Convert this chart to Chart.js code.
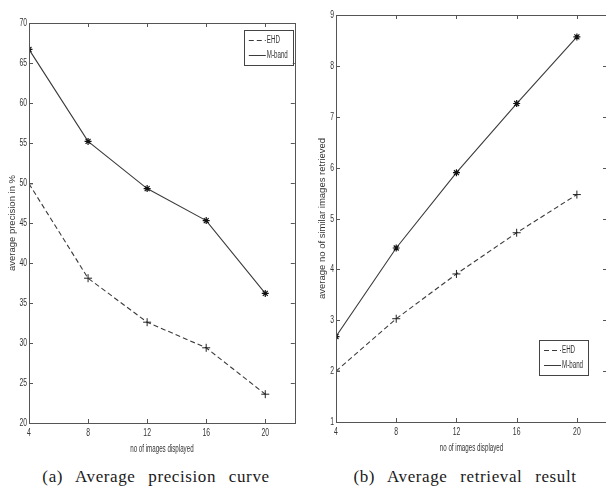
<!DOCTYPE html>
<html>
<head>
<meta charset="utf-8">
<script src="https://cdn.jsdelivr.net/npm/chart.js@4.4.1/dist/chart.umd.min.js"></script>
<style>
  html, body { margin: 0; padding: 0; background: #fff; width: 606px; height: 487px; overflow: hidden; }
  #wrap { position: relative; width: 606px; height: 487px; overflow: hidden; }
  .cv { position: absolute; top: 0; }
  .cap { position: absolute; font-family: "Liberation Serif", "Times New Roman", serif; font-size: 17px; line-height: 17px; color: #1a1a1a;
         white-space: nowrap; word-spacing: 8px; letter-spacing: 0.6px; transform: translateX(-50%); top: 468px; }
</style>
</head>
<body>
<div id="wrap">
  <div class="cv" style="left:0px;width:300px;height:460px;"><canvas id="c1" width="300" height="460"></canvas></div>
  <div class="cv" style="left:300px;width:320px;height:460px;"><canvas id="c2" width="320" height="460"></canvas></div>
  <div class="cap" style="left:156px;">(a) Average precision curve</div>
  <div class="cap" style="left:465px;">(b) Average retrieval result</div>
</div>
<script>
// ---- data ----
const xValues = [4, 8, 12, 16, 20];
const seriesNames = ["EHD", "M-band"];
const precisionEHD = [49.9, 38.1, 32.6, 29.4, 23.6];
const precisionMband = [66.7, 55.2, 49.3, 45.3, 36.2];
const retrievalEHD = [2.0, 3.03, 3.91, 4.72, 5.47];
const retrievalMband = [2.68, 4.42, 5.9, 7.26, 8.57];
const xTicks = [4, 8, 12, 16, 20];
const precisionTicks = [20, 25, 30, 35, 40, 45, 50, 55, 60, 65, 70];
const retrievalTicks = [1, 2, 3, 4, 5, 6, 7, 8, 9];
const titles = {
  left: { y: "average precision in %", x: "no of images displayed" },
  right: { y: "average no of similar images retrieved", x: "no of images displayed" }
};

const LINE = "#3b3b3b";
const FRAME = "#555";
const TXT = "#333";
const SANS = "'Liberation Sans', Arial, sans-serif";
const SQUEEZE = 0.62;

function pts(arr) { return xValues.map((x, i) => ({ x: x, y: arr[i] })); }

// draw horizontally condensed text (like the narrow font of the original)
function narrowText(ctx, text, x, y, size, align, base) {
  ctx.save();
  ctx.font = size + "px " + SANS;
  ctx.textAlign = align;
  ctx.textBaseline = base || 'middle';
  ctx.fillStyle = TXT;
  ctx.translate(x, y);
  ctx.scale(SQUEEZE, 1);
  ctx.fillText(text, 0, 0);
  ctx.restore();
}

const framePlugin = {
  id: 'frame',
  afterDatasetsDraw(chart, args, opts) {
    const { ctx, chartArea: a, scales } = chart;
    ctx.save();
    ctx.strokeStyle = FRAME;
    ctx.lineWidth = 1;
    ctx.strokeRect(Math.round(a.left) + 0.5, Math.round(a.top) + 0.5, Math.round(a.right - a.left), Math.round(a.bottom - a.top));
    const L = 4;
    ctx.beginPath();
    scales.x.ticks.forEach(t => {
      const px = Math.round(scales.x.getPixelForValue(t.value)) + 0.5;
      ctx.moveTo(px, a.bottom); ctx.lineTo(px, a.bottom - L);
      ctx.moveTo(px, a.top); ctx.lineTo(px, a.top + L);
    });
    scales.y.ticks.forEach(t => {
      const py = Math.round(scales.y.getPixelForValue(t.value)) + 0.5;
      ctx.moveTo(a.left, py); ctx.lineTo(a.left + L, py);
      ctx.moveTo(a.right, py); ctx.lineTo(a.right - L, py);
    });
    ctx.stroke();
    ctx.restore();

    // tick labels (condensed)
    scales.x.ticks.forEach(t => {
      narrowText(ctx, String(t.value), scales.x.getPixelForValue(t.value), a.bottom + 10, 11, 'center');
    });
    scales.y.ticks.forEach(t => {
      narrowText(ctx, String(t.value), a.left - 2, scales.y.getPixelForValue(t.value), 11, 'right');
    });
    // x axis title (condensed)
    narrowText(ctx, opts.xTitle, (a.left + a.right) / 2, a.bottom + 26, 10, 'center');

    // legend
    const w = 49, h = 35;
    const bx = a.right - opts.right - w;
    const by = opts.top != null ? a.top + opts.top : a.bottom - opts.bottom - h;
    ctx.save();
    ctx.fillStyle = '#fff';
    ctx.fillRect(bx, by, w, h);
    ctx.strokeStyle = '#444';
    ctx.strokeRect(Math.round(bx) + 0.5, Math.round(by) + 0.5, w, h);
    chart.data.datasets.forEach((ds, i) => {
      const yy = Math.round(by + 10 + i * 15) + 0.5;
      ctx.strokeStyle = LINE;
      ctx.setLineDash(ds.borderDash || []);
      ctx.beginPath();
      ctx.moveTo(bx + 5, yy); ctx.lineTo(bx + 22, yy);
      ctx.stroke();
      ctx.setLineDash([]);
      narrowText(ctx, ds.label, bx + 23, yy, 10, 'left');
    });
    ctx.restore();
  }
};

function makeChart(id, ehd, mband, yTicks, area, tt, legendPos) {
  const H = 460;
  return new Chart(document.getElementById(id), {
    type: 'line',
    data: {
      datasets: [
        { label: seriesNames[0], data: pts(ehd), borderColor: LINE, borderWidth: 1.1, borderDash: [5, 3],
          pointStyle: 'cross', pointRadius: 4, pointBorderWidth: 1, pointBorderColor: '#222', fill: false, tension: 0 },
        { label: seriesNames[1], data: pts(mband), borderColor: LINE, borderWidth: 1.1,
          pointStyle: 'star', pointRadius: 3.5, pointBorderWidth: 1.2, pointBorderColor: '#111', fill: false, tension: 0 }
      ]
    },
    options: {
      responsive: false,
      animation: false,
      devicePixelRatio: 1,
      layout: { padding: { left: 0, top: area.top, right: area.rightPad, bottom: 0 } },
      plugins: { legend: { display: false }, tooltip: { enabled: false },
                 frame: Object.assign({ xTitle: tt.x }, legendPos) },
      scales: {
        x: {
          type: 'linear', min: 4, max: 22,
          afterBuildTicks: s => { s.ticks = xTicks.map(v => ({ value: v })); },
          afterFit: s => { s.height = H - area.bottom; },
          grid: { display: false, drawTicks: false },
          border: { display: false },
          ticks: { display: false }
        },
        y: {
          type: 'linear', min: yTicks[0], max: yTicks[yTicks.length - 1],
          afterBuildTicks: s => { s.ticks = yTicks.map(v => ({ value: v })); },
          afterFit: s => { s.width = area.left; },
          grid: { display: false, drawTicks: false },
          border: { display: false },
          ticks: { display: false },
          title: { display: true, text: tt.y, color: TXT,
                   font: { family: SANS, size: 9.5 },
                   padding: { top: area.titlePad, bottom: 0 } }
        }
      }
    },
    plugins: [framePlugin]
  });
}

makeChart('c1', precisionEHD, precisionMband, precisionTicks,
  { left: 29, top: 23, rightPad: 5, bottom: 423, titlePad: 7 }, titles.left, { right: 2, top: 7 });
makeChart('c2', retrievalEHD, retrievalMband, retrievalTicks,
  { left: 36, top: 15, rightPad: 13, bottom: 422, titlePad: 17 }, titles.right, { right: 19, bottom: 47 });
</script>
</body>
</html>
